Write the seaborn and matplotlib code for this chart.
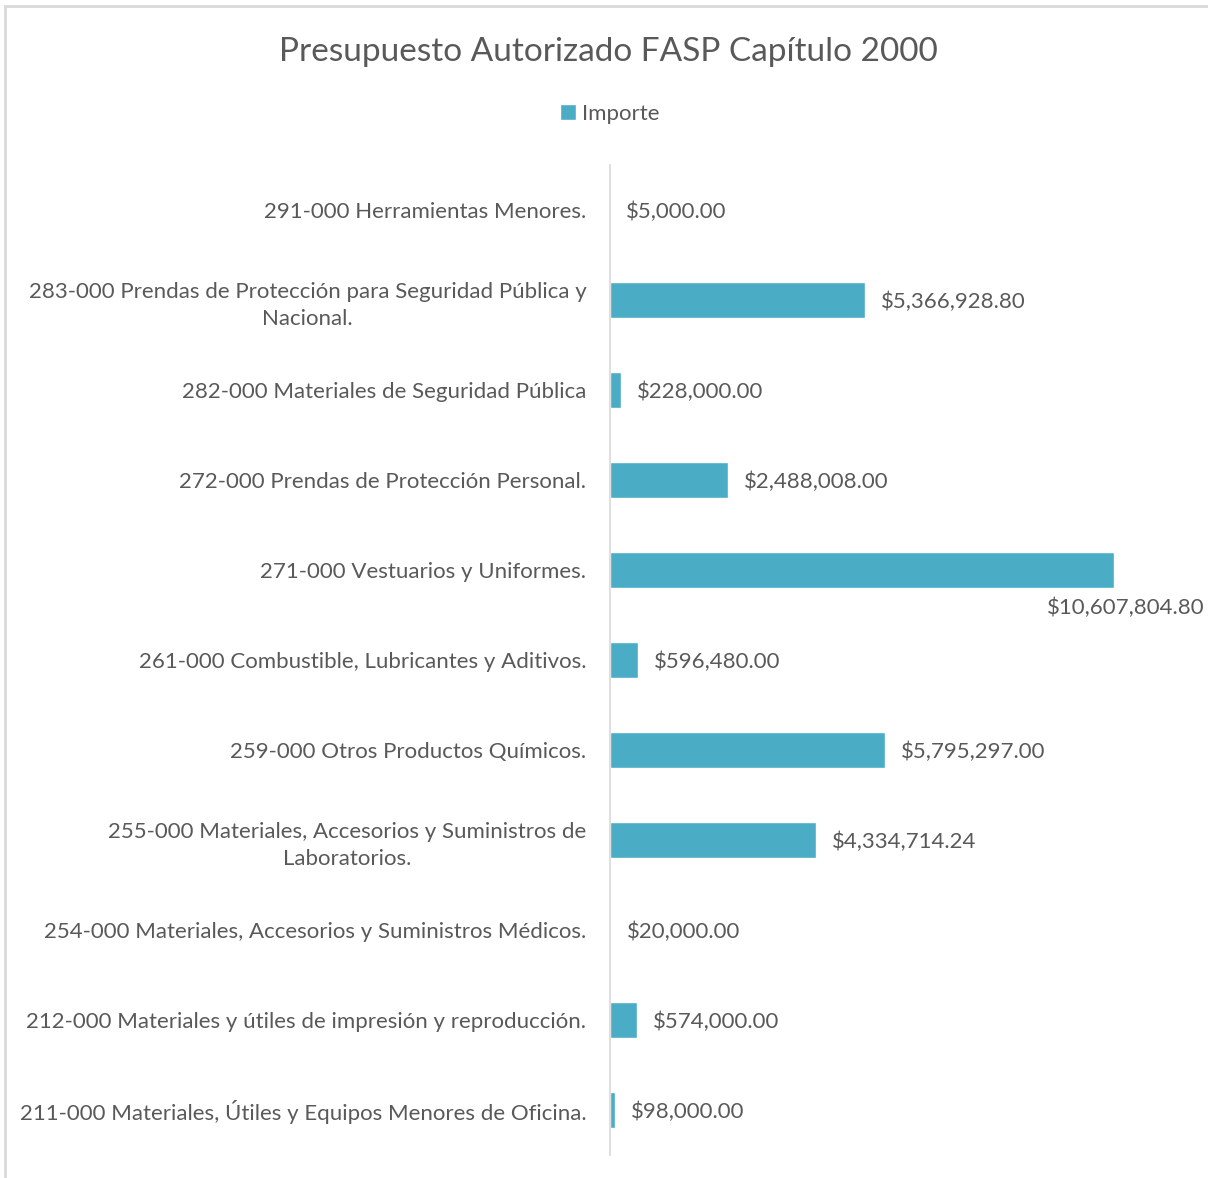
import pandas as pd
import seaborn as sns
from matplotlib import pyplot as plt
from matplotlib.patches import Rectangle


# Chart data, top row first as in the reference
partidas = [
    '291-000 Herramientas Menores.',
    '283-000 Prendas de Protección para Seguridad Pública y\nNacional.',
    '282-000 Materiales de Seguridad Pública',
    '272-000 Prendas de Protección Personal.',
    '271-000 Vestuarios y Uniformes.',
    '261-000 Combustible, Lubricantes y Aditivos.',
    '259-000 Otros Productos Químicos.',
    '255-000 Materiales, Accesorios y Suministros de\nLaboratorios.',
    '254-000 Materiales, Accesorios y Suministros Médicos.',
    '212-000 Materiales y útiles de impresión y reproducción.',
    '211-000 Materiales, Útiles y Equipos Menores de Oficina.',
]
importe = [5000.00, 5366928.80, 228000.00, 2488008.00, 10607804.80, 596480.00,
           5795297.00, 4334714.24, 20000.00, 574000.00, 98000.00]

df = pd.DataFrame({'Partida': partidas, 'Importe': importe})

bar_color = '#4BACC6'
text_color = '#595959'

sns.set_style('white')
plt.rcParams['font.family'] = ['Lato', 'DejaVu Sans']

fig = plt.figure(figsize=(12.08, 11.78), dpi=100)
ax = fig.add_axes([610 / 1208, 1 - 1155 / 1178, 570 / 1208, 990 / 1178])

sns.barplot(data=df, x='Importe', y='Partida', orient='h', color=bar_color,
            width=0.4, saturation=1, ax=ax, label='Importe')
handles, labels = ax.get_legend_handles_labels()
if ax.get_legend() is not None:
    ax.get_legend().remove()

ax.set_xlim(0, 12000000)
ax.set_xlabel('')
ax.set_ylabel('')
ax.set_xticks([])
ax.tick_params(axis='y', length=0, pad=17, labelsize=16, labelcolor=text_color)
for lbl in ax.get_yticklabels():
    lbl.set_multialignment('center')
    lbl.set_linespacing(1.45)

for side in ['top', 'right', 'bottom']:
    ax.spines[side].set_visible(False)
ax.spines['left'].set_color('#D9D9D9')
ax.spines['left'].set_linewidth(1.2)

# Value labels
vmax = max(importe)
for i, v in enumerate(importe):
    txt = '${:,.2f}'.format(v)
    if v == vmax:
        ax.annotate(txt, (v, i + 0.2), xytext=(12, -10), textcoords='offset pixels',
                    ha='center', va='top', fontsize=16, color=text_color)
    else:
        ax.annotate(txt, (v, i), xytext=(16, -2), textcoords='offset pixels',
                    ha='left', va='center', fontsize=16, color=text_color)

fig.text(608 / 1208, 1 - 52 / 1178, 'Presupuesto Autorizado FASP Capítulo 2000',
         ha='center', va='center', fontsize=24, color=text_color)

fig.legend(handles, labels, loc='center', bbox_to_anchor=(610 / 1208, 1 - 114 / 1178),
           frameon=False, fontsize=16, labelcolor=text_color, handlelength=0.7,
           handleheight=0.7, handletextpad=0.3)

# Light outer border of the chart area
fig.patches.append(Rectangle((5 / 1208, -0.02), 1.1, 1 - 6 / 1178 + 0.02,
                             transform=fig.transFigure, fill=False,
                             edgecolor='#D9D9D9', linewidth=2))

fig.savefig('out.png', dpi=100)
